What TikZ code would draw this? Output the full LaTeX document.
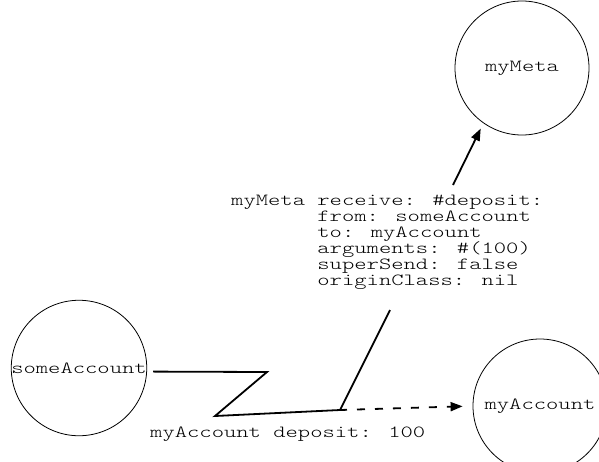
\documentclass[tikz,border=0pt]{standalone}
\usepackage{fontspec}
\newfontfamily\courfont{lmmonolt10-regular}[Extension=.otf,FakeStretch=1.38,WordSpace={1,0,0}]
\usetikzlibrary{arrows.meta}

\begin{document}
\begin{tikzpicture}[
		x=1pt,y=-1pt,
		every node/.style={font=\courfont\fontsize{17}{16}\selectfont},
		object/.style={circle,draw,line width=0.8pt,inner sep=0pt,minimum size=134pt},
		msg/.style={line width=1.8pt,line join=miter},
		tip/.style={-{Triangle[length=12pt,width=9pt]}}
	]
	\useasboundingbox (0,0) rectangle (599,461);
	\clip (0,0) rectangle (599,461);
	\node[object] (someAccount) at (79,368) {someAccount};
	\node[object] (myMeta) at (522,68) {myMeta};
	\node[object] (myAccount) at (540,406) {myAccount};
	\coordinate (bend1) at (267,372);
	\coordinate (bend2) at (215,416);
	\coordinate (send) at (340,410);
	\coordinate (msgfoot) at (390,310);
	\coordinate (metaup) at (453,185);
	\node[anchor=base west,inner sep=0pt] (deposit) at (150,437) {myAccount deposit: 100};
	\node[anchor=base west,align=left,inner sep=0pt] (receive) at (231,285.5) {myMeta receive: \#deposit:\\
			\hphantom{myMeta }from: someAccount\\
			\hphantom{myMeta }to: myAccount\\
			\hphantom{myMeta }arguments: \#(100)\\
			\hphantom{myMeta }superSend: false\\
			\hphantom{myMeta }originClass: nil};
	\draw[msg,shorten <=6pt] (someAccount.-3) -- (bend1) -- (bend2) -- (send) -- (msgfoot);
	\draw[msg,tip,shorten >=6pt] (metaup) -- (myMeta.235);
	\draw[msg,tip,dash pattern=on 8pt off 10pt,dash phase=1pt,shorten >=10pt] (send) -- (myAccount.west);
\end{tikzpicture}
\end{document}
